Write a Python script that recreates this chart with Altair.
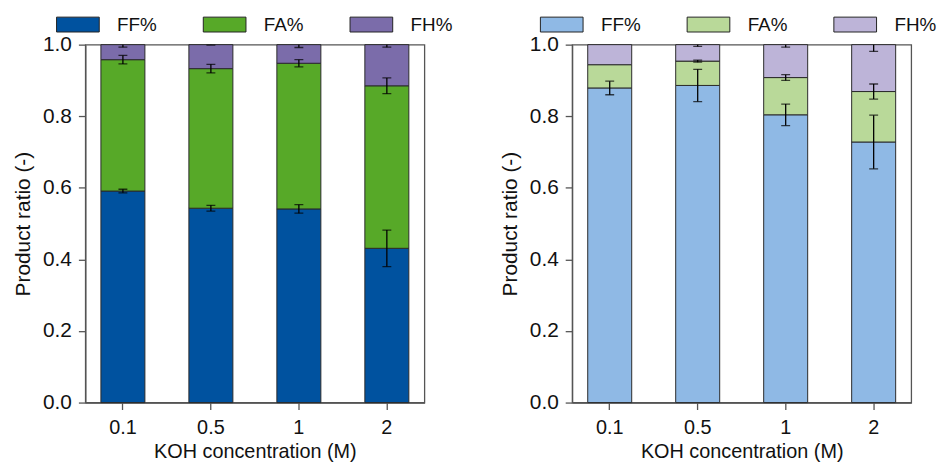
import altair as alt
import pandas as pd

categories = ["0.1", "0.5", "1", "2"]
products = ["FF%", "FA%", "FH%"]

left_ff = [0.591, 0.543, 0.541, 0.431]
left_fa = [0.367, 0.390, 0.407, 0.454]
left_fh = [0.042, 0.067, 0.052, 0.115]
left_ff_err = [0.005, 0.008, 0.012, 0.051]
left_fa_err = [0.012, 0.012, 0.010, 0.022]
left_fh_err = [0.007, 0.001, 0.008, 0.007]

right_ff = [0.879, 0.886, 0.804, 0.728]
right_fa = [0.065, 0.068, 0.104, 0.141]
right_fh = [0.056, 0.046, 0.092, 0.131]
right_ff_err = [0.019, 0.045, 0.030, 0.075]
right_fa_err = [0.0, 0.003, 0.008, 0.021]
right_fh_err = [0.0, 0.005, 0.007, 0.019]

left_colors = ["#00529f", "#57a928", "#7b6caa"]
right_colors = ["#8fb9e5", "#b9d999", "#bdb4d8"]

FONT = "Liberation Sans"
RECT = "M-2.87,-1L2.87,-1L2.87,1L-2.87,1Z"


def build_frame(ff, fa, fh, eff, efa, efh):
    rows = []
    for i, cat in enumerate(categories):
        start = 0.0
        for j, (vals, errs) in enumerate(((ff, eff), (fa, efa), (fh, efh))):
            end = start + vals[i]
            rows.append({
                "cat": cat, "product": products[j], "order": j,
                "lo": start, "hi": end,
                "elo": end - errs[i], "ehi": end + errs[i], "err": errs[i],
            })
            start = end
    return pd.DataFrame(rows)


def panel(df, colors, legend_x):
    xenc = alt.X(
        "cat:N", sort=categories,
        scale=alt.Scale(paddingInner=0.5, paddingOuter=0.177),
        axis=alt.Axis(title="KOH concentration (M)", labelAngle=0, tickSize=7,
                      labelPadding=8, titlePadding=4, labelFontSize=20, titleFontSize=20),
    )
    yscale = alt.Scale(domain=[0, 1], nice=False)
    yaxis = alt.Axis(title="Product ratio (-)", values=[0, 0.2, 0.4, 0.6, 0.8, 1.0],
                     format=".1f", tickSize=7, labelPadding=7, titlePadding=9, grid=False,
                     labelFontSize=21, titleFontSize=21)
    bars = alt.Chart(df).mark_bar(stroke="#2a2a2a", strokeWidth=1).encode(
        x=xenc,
        y=alt.Y("lo:Q", scale=yscale, axis=yaxis),
        y2="hi:Q",
        color=alt.Color(
            "product:N",
            scale=alt.Scale(domain=products, range=colors),
            legend=alt.Legend(
                title=None, orient="none", direction="horizontal",
                legendX=legend_x, legendY=-30,
                symbolType=RECT, symbolSize=225,
                symbolStrokeColor="#222", symbolStrokeWidth=1,
                labelFontSize=19, labelOffset=30, columnPadding=41, gridAlign="all",
                labelFont=FONT, labelColor="#111",
            ),
        ),
        order="order:Q",
    )
    edf = df[df["err"] > 0]
    rule = alt.Chart(edf).mark_rule(color="black", strokeWidth=1.3, clip=True).encode(
        x=alt.X("cat:N", sort=categories), y="elo:Q", y2="ehi:Q"
    )
    cap_lo = alt.Chart(edf).mark_tick(color="black", thickness=1.3, size=9, clip=True,
                                      orient="horizontal").encode(
        x=alt.X("cat:N", sort=categories), y="elo:Q"
    )
    cap_hi = alt.Chart(edf).mark_tick(color="black", thickness=1.3, size=9, clip=True,
                                      orient="horizontal").encode(
        x=alt.X("cat:N", sort=categories), y="ehi:Q"
    )
    return alt.layer(bars, rule, cap_lo, cap_hi).properties(width=342, height=361)


left = panel(build_frame(left_ff, left_fa, left_fh, left_ff_err, left_fa_err, left_fh_err),
             left_colors, -17)
right = panel(build_frame(right_ff, right_fa, right_fh, right_ff_err, right_fa_err, right_fh_err),
              right_colors, -20)

chart = alt.hconcat(left, right, spacing=45).resolve_scale(color="independent").properties(
    padding={"left": 4, "top": 4, "right": 0, "bottom": 0}
).configure(font=FONT).configure_view(
    stroke="#555555", strokeWidth=1.3
).configure_axis(
    labelFont=FONT, titleFont=FONT,
    labelColor="#111", titleColor="#111", titleFontWeight="normal",
    domainColor="#555555", tickColor="#555555", domainWidth=1.3, tickWidth=1.3,
)

chart.save("out.html", embed_options={"renderer": "svg", "actions": False})
